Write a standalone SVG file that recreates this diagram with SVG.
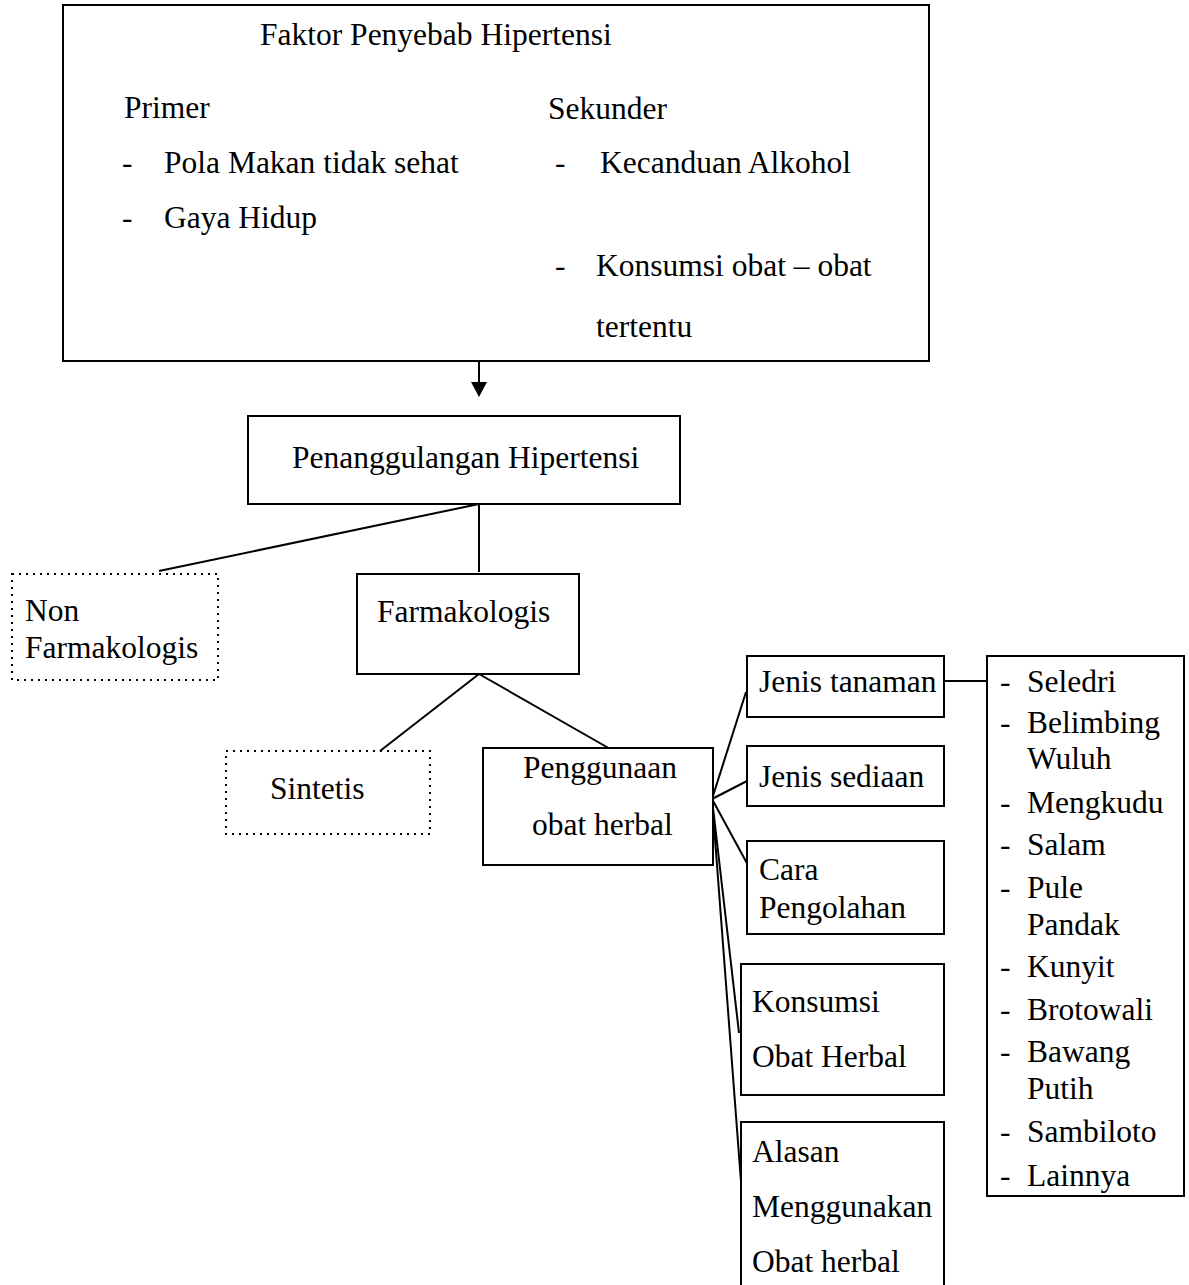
<svg xmlns="http://www.w3.org/2000/svg" width="1189" height="1285" viewBox="0 0 1189 1285">
<style>
text{font-family:"Liberation Serif","Times New Roman",serif;font-size:31.5px;fill:#000}
.box{fill:#fff;stroke:#000;stroke-width:2}
.dot{fill:#fff;stroke:#000;stroke-width:2;stroke-dasharray:2 5}
.ln{stroke:#000;stroke-width:2;fill:none}
</style>
<defs>
<marker id="arr" markerWidth="16" markerHeight="16" refX="8" refY="15" orient="auto-start-reverse" markerUnits="userSpaceOnUse" viewBox="0 0 16 16">
<path d="M0,0 L16,0 L8,16 Z" fill="#000" transform="rotate(0)"/>
</marker>
</defs>
<rect width="1189" height="1285" fill="#fff"/>
<g id="connectors">
<line class="ln" x1="479" y1="361" x2="479" y2="382"/>
<path d="M471,382 L487,382 L479,397 Z" fill="#000"/>
<line class="ln" x1="479" y1="504" x2="159" y2="571"/>
<line class="ln" x1="479" y1="504" x2="479" y2="572"/>
<line class="ln" x1="479" y1="674" x2="380" y2="751"/>
<line class="ln" x1="479" y1="674" x2="612" y2="750"/>
<line class="ln" x1="712" y1="799" x2="746" y2="692"/>
<line class="ln" x1="712" y1="799" x2="747" y2="781"/>
<line class="ln" x1="712" y1="799" x2="749" y2="867"/>
<line class="ln" x1="712" y1="799" x2="739" y2="1033"/>
<line class="ln" x1="712" y1="799" x2="742" y2="1195"/>
<line class="ln" x1="944" y1="681" x2="987" y2="681"/>
</g>
<g id="faktor">
<rect class="box" x="63" y="5" width="866" height="356"/>
<text x="260" y="45">Faktor Penyebab Hipertensi</text>
<text x="124" y="118">Primer</text>
<text x="548" y="119">Sekunder</text>
<text x="122" y="173">-</text>
<text x="164" y="173">Pola Makan tidak sehat</text>
<text x="122" y="228">-</text>
<text x="164" y="228">Gaya Hidup</text>
<text x="555" y="173">-</text>
<text x="600" y="173">Kecanduan Alkohol</text>
<text x="555" y="276">-</text>
<text x="596" y="276">Konsumsi obat – obat</text>
<text x="596" y="337">tertentu</text>
</g>
<g id="penanggulangan">
<rect class="box" x="248" y="416" width="432" height="88"/>
<text x="292" y="468">Penanggulangan Hipertensi</text>
</g>
<g id="non-farmakologis">
<rect class="dot" x="12" y="574" width="206" height="106"/>
<text x="25" y="621">Non</text>
<text x="25" y="658">Farmakologis</text>
</g>
<g id="farmakologis">
<rect class="box" x="357" y="574" width="222" height="100"/>
<text x="377" y="622">Farmakologis</text>
</g>
<g id="sintetis">
<rect class="dot" x="226" y="751" width="204" height="83"/>
<text x="270" y="799">Sintetis</text>
</g>
<g id="penggunaan">
<rect class="box" x="483" y="748" width="230" height="117"/>
<text x="523" y="778">Penggunaan</text>
<text x="532" y="835">obat herbal</text>
</g>
<g id="jenis-tanaman">
<rect class="box" x="747" y="656" width="197" height="61"/>
<text x="759" y="692">Jenis tanaman</text>
</g>
<g id="jenis-sediaan">
<rect class="box" x="747" y="746" width="197" height="60"/>
<text x="759" y="787">Jenis sediaan</text>
</g>
<g id="cara-pengolahan">
<rect class="box" x="747" y="841" width="197" height="93"/>
<text x="759" y="880">Cara</text>
<text x="759" y="918">Pengolahan</text>
</g>
<g id="konsumsi">
<rect class="box" x="741" y="964" width="203" height="131"/>
<text x="752" y="1012">Konsumsi</text>
<text x="752" y="1067">Obat Herbal</text>
</g>
<g id="alasan">
<rect class="box" x="741" y="1122" width="203" height="200"/>
<text x="752" y="1162">Alasan</text>
<text x="752" y="1217">Menggunakan</text>
<text x="752" y="1272">Obat herbal</text>
</g>
<g id="daftar-tanaman">
<rect class="box" x="987" y="656" width="197" height="540"/>
<text x="1000" y="692">-</text><text x="1027" y="692">Seledri</text>
<text x="1000" y="733">-</text><text x="1027" y="733">Belimbing</text>
<text x="1027" y="769">Wuluh</text>
<text x="1000" y="813">-</text><text x="1027" y="813">Mengkudu</text>
<text x="1000" y="855">-</text><text x="1027" y="855">Salam</text>
<text x="1000" y="898">-</text><text x="1027" y="898">Pule</text>
<text x="1027" y="935">Pandak</text>
<text x="1000" y="977">-</text><text x="1027" y="977">Kunyit</text>
<text x="1000" y="1020">-</text><text x="1027" y="1020">Brotowali</text>
<text x="1000" y="1062">-</text><text x="1027" y="1062">Bawang</text>
<text x="1027" y="1099">Putih</text>
<text x="1000" y="1142">-</text><text x="1027" y="1142">Sambiloto</text>
<text x="1000" y="1186">-</text><text x="1027" y="1186">Lainnya</text>
</g>
</svg>
